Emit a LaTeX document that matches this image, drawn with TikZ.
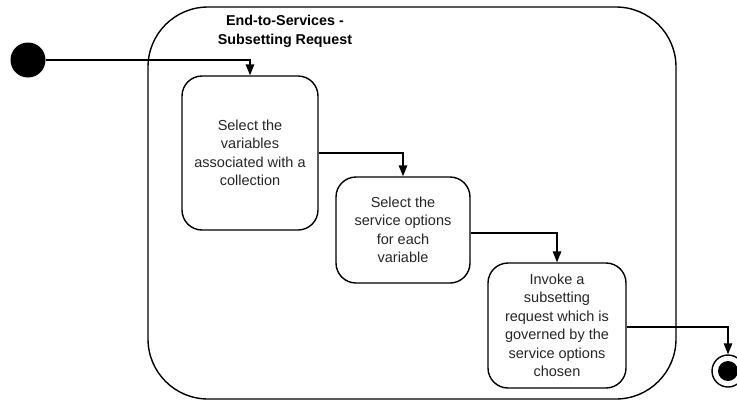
\documentclass[tikz,border=0pt]{standalone}
\usepackage{fontspec}
\setmainfont{Liberation Sans}
\usetikzlibrary{arrows.meta}
\begin{document}
\begin{tikzpicture}[x=1pt,y=-1pt,
  line width=1.4pt,
  box/.style={draw, rounded corners=20pt, align=center, inner sep=0pt,
    font=\fontsize{14.5}{18.5}\selectfont, text=black!85},
  conn/.style={-{Triangle[length=11pt,width=8.5pt]}},
  title/.style={align=center, font=\fontsize{14.3}{19}\selectfont\bfseries}]
\useasboundingbox (0,0) rectangle (737,402);
\node[draw, rounded corners=60pt, minimum width=528pt, minimum height=392pt, inner sep=0pt] (cont) at (412,203) {};
\node[title] (ttl) at (285,31) {End-to-Services -\\Subsetting Request};
\node[circle, fill=black, minimum size=35pt, inner sep=0pt] (start) at (28,60) {};
\node[box, minimum width=136pt, minimum height=154pt] (b1) at (250,153) {Select the\\variables\\associated with a\\collection};
\node[box, minimum width=134pt, minimum height=106pt] (b2) at (403,230) {Select the\\service options\\for each\\variable};
\node[box, minimum width=138pt, minimum height=125pt] (b3) at (557,325.5) {Invoke a\\subsetting\\request which is\\governed by the\\service options\\chosen};
\node[circle, draw, minimum size=32pt, inner sep=0pt] (end) at (728,371) {};
\node[circle, fill=black, minimum size=20pt, inner sep=0pt] (endin) at (end.center) {};
\draw[conn] (start) -| (b1.north);
\draw[conn] (b1.east) -| (b2.north);
\draw[conn] ([yshift=-3pt]b2.east) -| (b3.north);
\draw[conn] ([yshift=-1.5pt]b3.east) -| (end.north);
\end{tikzpicture}
\end{document}
